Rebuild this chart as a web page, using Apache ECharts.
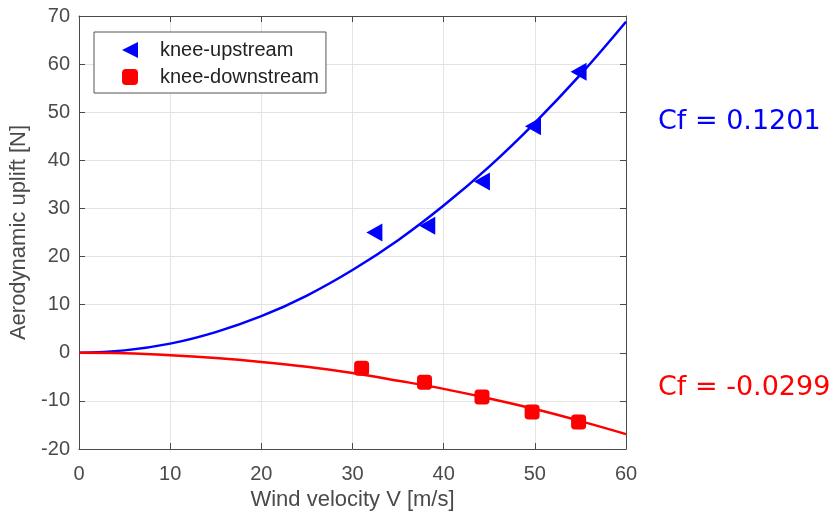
<!DOCTYPE html>
<html>
<head>
<meta charset="utf-8">
<script src="https://cdn.jsdelivr.net/npm/echarts@6/dist/echarts.min.js"></script>
<style>
  html, body { margin: 0; padding: 0; background: #fff; }
  #chart { width: 837px; height: 516px; }
</style>
</head>
<body>
<div id="chart"></div>
<script>
let upV = [32.4, 38.2, 44.2, 49.8, 54.8];
let upF = [25.0, 26.4, 35.6, 47.1, 58.4];
let downV = [31.0, 37.9, 44.2, 49.7, 54.8];
let downF = [-3.2, -6.1, -9.2, -12.3, -14.4];

// fitted curves read every 5 m/s
let fitV = [0, 5, 10, 15, 20, 25, 30, 35, 40, 45, 50, 55, 60];
let upFit = [0, 0.5, 1.9, 4.3, 7.6, 11.9, 17.2, 23.4, 30.6, 38.7, 47.8, 57.8, 68.8];
let downFit = [0, -0.1, -0.5, -1.1, -1.9, -2.9, -4.2, -5.8, -7.5, -9.5, -11.7, -14.2, -16.9];

let xTicks = [0, 60, 10];
let yTicks = [-20, 70, 10];

let cfUp = 'Cf = 0.1201';
let cfDown = 'Cf = -0.0299';

const leftTri = 'path://M0,5 L10,0 L10,10 Z';
const axisGray = '#4a4a4a';
const font = 'Liberation Sans, Arial, sans-serif';

function pairs(xs, ys){
    let arr = [];
    for(let i = 0; i < xs.length; i++){
        arr.push([xs[i], ys[i]]);
    }
    return arr;
}

function mainAxis(extra){
    let ax = {
        type: 'value',
        axisLine: { show: true, onZero: false, lineStyle: { color: axisGray, width: 1 } },
        axisTick: { show: true, inside: true, length: 6, lineStyle: { color: axisGray } },
        splitLine: { show: true, lineStyle: { color: '#e3e3e3', width: 1 } },
        axisLabel: { color: axisGray, fontSize: 20, fontFamily: font },
        nameTextStyle: { color: axisGray, fontSize: 22, fontFamily: font }
    };
    return Object.assign(ax, extra);
}

// top / right axes only close the box (MATLAB style)
function boxAxis(extra){
    let ax = {
        type: 'value',
        axisLine: { show: true, onZero: false, lineStyle: { color: axisGray, width: 1 } },
        axisTick: { show: true, inside: true, length: 6, lineStyle: { color: axisGray } },
        splitLine: { show: false },
        axisLabel: { show: false }
    };
    return Object.assign(ax, extra);
}

let myChart = echarts.init(document.getElementById('chart'));

let option = {
    animation: false,
    backgroundColor: '#fff',
    grid: { left: 79, right: 211, top: 16, bottom: 67 },
    xAxis: [
        mainAxis({
            min: xTicks[0], max: xTicks[1], interval: xTicks[2],
            position: 'bottom',
            name: 'Wind velocity V [m/s]',
            nameLocation: 'middle',
            nameGap: 39,
            axisLabel: { color: axisGray, fontSize: 20, fontFamily: font, margin: 15 }
        }),
        boxAxis({ min: xTicks[0], max: xTicks[1], interval: xTicks[2], position: 'top' })
    ],
    yAxis: [
        mainAxis({
            min: yTicks[0], max: yTicks[1], interval: yTicks[2],
            position: 'left',
            name: 'Aerodynamic uplift [N]',
            nameLocation: 'middle',
            nameGap: 43,
            axisLabel: { color: axisGray, fontSize: 20, fontFamily: font, margin: 9 }
        }),
        boxAxis({ min: yTicks[0], max: yTicks[1], interval: yTicks[2], position: 'right' })
    ],
    legend: {
        left: 94,
        top: 32,
        orient: 'vertical',
        backgroundColor: '#fff',
        borderColor: '#555',
        borderWidth: 1,
        padding: [8, 7, 6, 28],
        itemGap: 7,
        itemWidth: 16,
        itemHeight: 16,
        textStyle: { color: '#222', fontSize: 20, fontFamily: font, padding: [0, 0, 0, 17] },
        data: [
            { name: 'knee-upstream', icon: leftTri, itemStyle: { color: '#0000ff', opacity: 1 } },
            { name: 'knee-downstream', icon: 'roundRect', itemStyle: { color: '#ff0000', opacity: 1 } }
        ]
    },
    series: [
        {
            name: 'fit-upstream',
            type: 'line',
            data: pairs(fitV, upFit),
            smooth: 0.4,
            showSymbol: false,
            lineStyle: { color: '#0000ff', width: 2.5 },
            z: 2
        },
        {
            name: 'fit-downstream',
            type: 'line',
            data: pairs(fitV, downFit),
            smooth: 0.4,
            showSymbol: false,
            lineStyle: { color: '#ff0000', width: 2.5 },
            z: 2
        },
        {
            name: 'knee-upstream',
            type: 'scatter',
            data: pairs(upV, upF),
            symbol: leftTri,
            symbolSize: [16, 18],
            itemStyle: { color: '#0000ff', opacity: 1 },
            z: 3
        },
        {
            name: 'knee-downstream',
            type: 'scatter',
            data: pairs(downV, downF),
            symbol: 'roundRect',
            symbolSize: 15,
            itemStyle: { color: '#ff0000', opacity: 1 },
            z: 3
        }
    ],
    graphic: [
        {
            type: 'text', left: 658, top: 108,
            style: { text: cfUp, fill: '#0000ff', fontSize: 27, fontFamily: 'DejaVu Sans, Verdana, sans-serif' }
        },
        {
            type: 'text', left: 658, top: 374,
            style: { text: cfDown, fill: '#ff0000', fontSize: 27, fontFamily: 'DejaVu Sans, Verdana, sans-serif' }
        }
    ]
};

myChart.setOption(option);
</script>
</body>
</html>
